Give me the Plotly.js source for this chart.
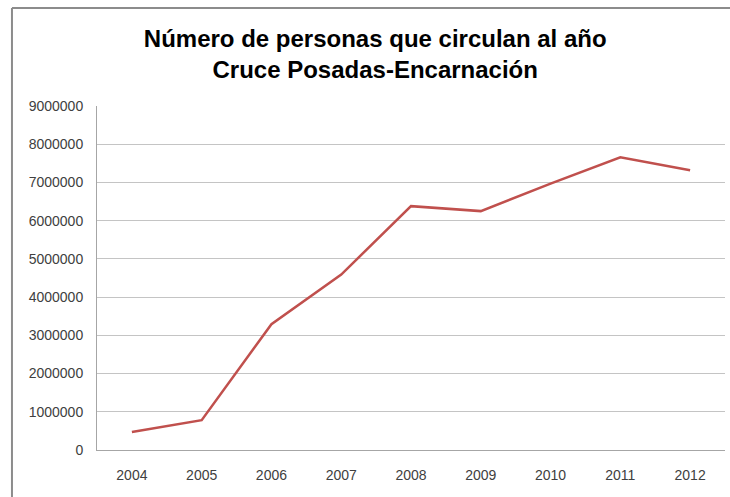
<!DOCTYPE html>
<html>
<head>
<meta charset="utf-8">
<script src="https://cdn.plot.ly/plotly-3.0.1.min.js"></script>
<style>html,body{margin:0;padding:0;background:#fff;}#chart{width:730px;height:497px;}</style>
</head>
<body>
<div id="chart"></div>
<script>
var years = ['2004','2005','2006','2007','2008','2009','2010','2011','2012'];
var personas = [470000, 780000, 3290000, 4590000, 6380000, 6250000, 6970000, 7660000, 7320000];
var yTicks = [0,1000000,2000000,3000000,4000000,5000000,6000000,7000000,8000000,9000000];
var yTickLabels = ['0','1000000','2000000','3000000','4000000','5000000','6000000','7000000','8000000','9000000'];
var titleLines = ['Número de personas que circulan al año', 'Cruce Posadas-Encarnación'];

var trace = {
  x: years, y: personas, type: 'scatter', mode: 'lines',
  line: {color: '#c0504d', width: 2.5},
  hoverinfo: 'x+y'
};
var layout = {
  width: 730, height: 497,
  margin: {l: 97, r: 5, t: 106, b: 47},
  paper_bgcolor: '#ffffff', plot_bgcolor: '#ffffff',
  showlegend: false,
  title: {
    text: titleLines.map(function(s){return '<b>' + s + '</b>';}).join('<br>'),
    font: {family: 'Liberation Sans Narrow, Arial Narrow, sans-serif', size: 24, color: '#000'},
    xref: 'container', x: 0.514, xanchor: 'center',
    yref: 'container', y: 0.905, yanchor: 'top'
  },
  xaxis: {
    type: 'category', range: [-0.5, 8.5],
    showgrid: false, showline: true, linecolor: '#a6a6a6', linewidth: 1,
    ticks: '', ticklabelstandoff: 12,
    tickfont: {family: 'Liberation Sans, Arial, sans-serif', size: 14, color: '#404040'},
    zeroline: false, fixedrange: true
  },
  yaxis: {
    range: [0, 9000000], tickvals: yTicks, ticktext: yTickLabels,
    showgrid: true, gridcolor: '#c4c4c4', gridwidth: 1,
    showline: true, linecolor: '#a6a6a6', linewidth: 1,
    ticks: '', ticklabelstandoff: 10,
    tickfont: {family: 'Liberation Sans, Arial, sans-serif', size: 14, color: '#404040'},
    zeroline: false, fixedrange: true
  },
  shapes: [
    {type: 'line', xref: 'paper', yref: 'paper', x0: -0.1354, x1: 1.1, y0: 1.285, y1: 1.285, line: {color: '#8c8c8c', width: 2}},
    {type: 'line', xref: 'paper', yref: 'paper', x0: -0.1354, x1: -0.1354, y0: 1.285, y1: -0.2, line: {color: '#8c8c8c', width: 2}}
  ]
};
Plotly.newPlot('chart', [trace], layout, {displayModeBar: false, staticPlot: true});
</script>
</body>
</html>
